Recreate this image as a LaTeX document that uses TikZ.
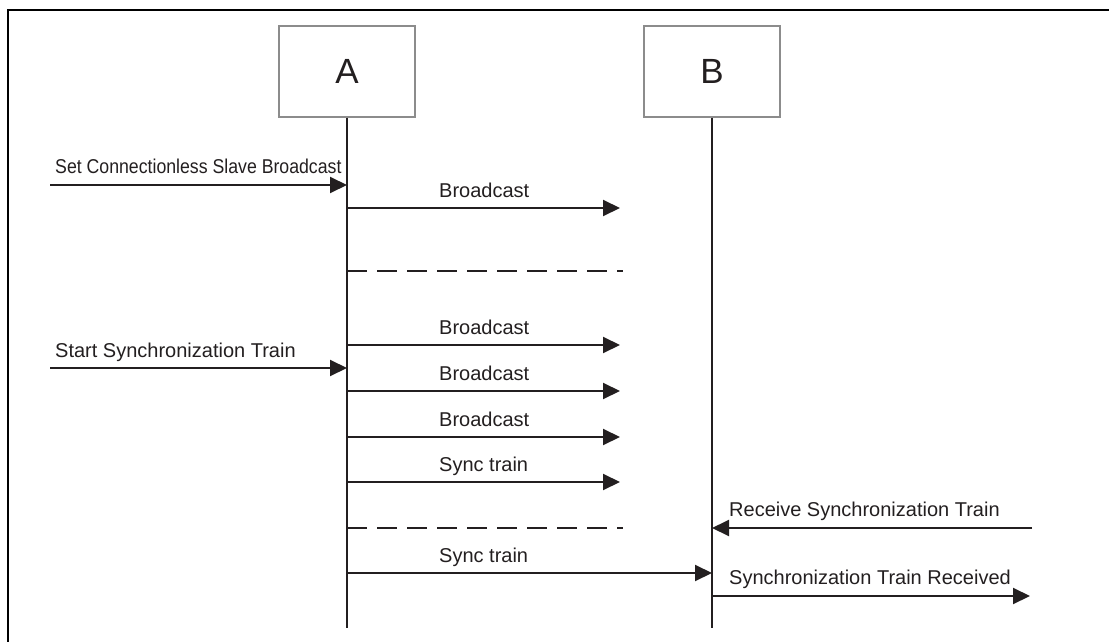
\documentclass[tikz,border=0pt]{standalone}
\usepackage{fontspec}
\setmainfont{Liberation Sans}
\usetikzlibrary{arrows.meta}
\definecolor{ink}{HTML}{231F20}
\definecolor{boxgray}{HTML}{8C8C8C}
\begin{document}
\begin{tikzpicture}[x=1pt,y=-1pt,
  actor/.style={draw=boxgray,line width=1.2pt,minimum width=136pt,minimum height=91pt,inner sep=0pt,font=\fontsize{35}{40}\selectfont,text=ink},
  life/.style={draw=ink,line width=2pt},
  msg/.style={draw=ink,line width=2pt,-{Triangle[length=17pt,width=16pt]}},
  gap/.style={draw=ink,line width=2pt,dash pattern=on 20pt off 10pt},
  lbl/.style={font=\fontsize{20}{24}\selectfont,text=ink,inner sep=0pt}]
\useasboundingbox (0,0) rectangle (1109,642);
% frame
\draw[line width=2.5pt,black] (1109,10) -- (8,10) -- (8,642);
% actors
\node[actor] (A) at (347,71.5) {A};
\node[actor] (B) at (712,71.5) {B};
\coordinate (Aend) at (347,628);
\coordinate (Bend) at (712,628);
\draw[life] (A.south) -- (Aend);
\draw[life] (B.south) -- (Bend);
% message 1: Set Connectionless Slave Broadcast
\coordinate (s1) at (50,185);
\coordinate (a1) at (347,185);
\draw[msg] (s1) -- (a1);
\node[lbl,anchor=base west] (t1) at (55,173) {\scalebox{0.885}[1]{Set Connectionless Slave Broadcast}};
% Broadcast 1
\coordinate (a2) at (347,208);
\coordinate (e2) at (620,208);
\draw[msg] (a2) -- (e2);
\node[lbl,anchor=base west] (t2) at (439,197) {Broadcast};
% dashed 1
\coordinate (d1s) at (347,271);
\coordinate (d1e) at (623,271);
\draw[gap] (d1s) -- (d1e);
% Broadcast 2
\coordinate (a3) at (347,345);
\coordinate (e3) at (620,345);
\draw[msg] (a3) -- (e3);
\node[lbl,anchor=base west] (t3) at (439,334) {Broadcast};
% Start Synchronization Train
\coordinate (s4) at (50,368);
\coordinate (a4) at (347,368);
\draw[msg] (s4) -- (a4);
\node[lbl,anchor=base west] (t4) at (55,357) {Start Synchronization Train};
% Broadcast 3
\coordinate (a5) at (347,391);
\coordinate (e5) at (620,391);
\draw[msg] (a5) -- (e5);
\node[lbl,anchor=base west] (t5) at (439,380) {Broadcast};
% Broadcast 4
\coordinate (a6) at (347,437);
\coordinate (e6) at (620,437);
\draw[msg] (a6) -- (e6);
\node[lbl,anchor=base west] (t6) at (439,426) {Broadcast};
% Sync train 1
\coordinate (a7) at (347,482);
\coordinate (e7) at (620,482);
\draw[msg] (a7) -- (e7);
\node[lbl,anchor=base west] (t7) at (439,471) {Sync train};
% dashed 2
\coordinate (d2s) at (347,528);
\coordinate (d2e) at (623,528);
\draw[gap] (d2s) -- (d2e);
% Receive Synchronization Train
\coordinate (s8) at (1032,528);
\coordinate (b8) at (712,528);
\draw[msg] (s8) -- (b8);
\node[lbl,anchor=base west] (t8) at (729,516) {Receive Synchronization Train};
% Sync train 2
\coordinate (a9) at (347,573);
\coordinate (b9) at (712,573);
\draw[msg] (a9) -- (b9);
\node[lbl,anchor=base west] (t9) at (439,562) {Sync train};
% Synchronization Train Received
\coordinate (b10) at (712,596);
\coordinate (e10) at (1030,596);
\draw[msg] (b10) -- (e10);
\node[lbl,anchor=base west] (t10) at (729,584) {Synchronization Train Received};
\end{tikzpicture}
\end{document}
